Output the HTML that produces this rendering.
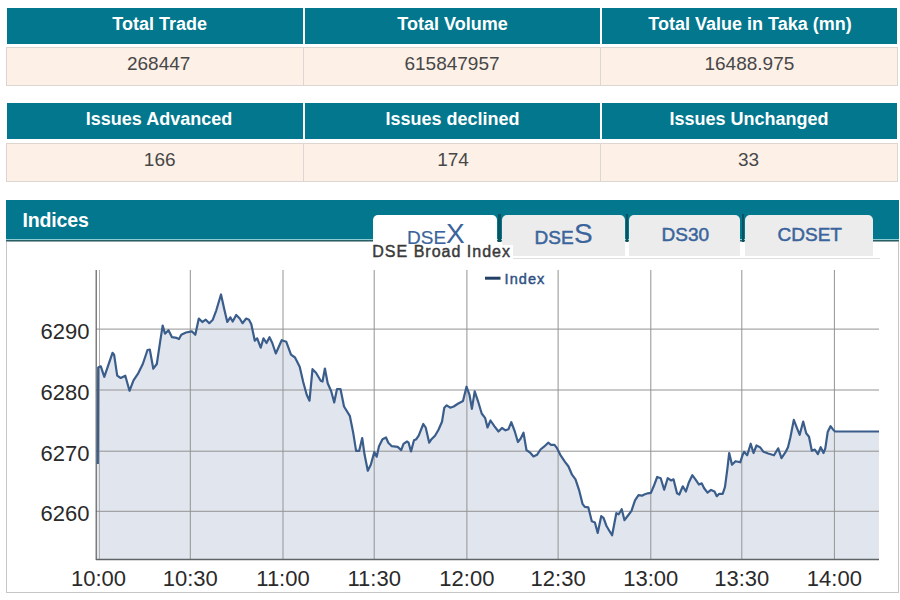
<!DOCTYPE html>
<html><head><meta charset="utf-8">
<style>
*{margin:0;padding:0;box-sizing:border-box}
html,body{width:900px;height:600px;overflow:hidden;background:#fff;font-family:"Liberation Sans",sans-serif}
.abs{position:absolute}
.th{position:absolute;background:#02778d;height:36px}
.tht{position:absolute;width:300px;text-align:center;color:#fff;font-weight:bold;font-size:18px;line-height:20px;white-space:nowrap}
.tdt{position:absolute;width:200px;text-align:center;color:#474747;font-size:19px;line-height:20px}
.drow{position:absolute;left:6px;width:892px;height:39px;border:1px solid #dcd5d0;background:#fdf0e7}
.vsep{position:absolute;width:1px;background:#dcd5d0}
.yl{position:absolute;left:20px;width:69.5px;text-align:right;font-size:22px;line-height:23px;color:#2a2a2a}
.xl{position:absolute;top:567px;width:80px;text-align:center;font-size:22px;line-height:23px;color:#2a2a2a}
.tab{position:absolute;top:214.5px;height:41.5px;border-radius:5px 5px 0 0;background:#ececec;color:#3a649b}
.gap{position:absolute;top:214px;width:2.5px;height:27.5px;background:#0a5360}
</style></head><body>
<!-- table 1 -->
<div class="th" style="left:7px;top:8px;width:295.5px"></div>
<div class="th" style="left:304.5px;top:8px;width:295.5px"></div>
<div class="th" style="left:601.5px;top:8px;width:295px"></div>
<div class="tht" style="left:9.699999999999989px;top:13.5px">Total Trade</div>
<div class="tht" style="left:302.5px;top:13.5px">Total Volume</div>
<div class="tht" style="left:600px;top:13.5px">Total Value in Taka (mn)</div>
<div class="drow" style="top:47px"></div>
<div class="vsep" style="left:303px;top:47px;height:39px"></div>
<div class="vsep" style="left:600px;top:47px;height:39px"></div>
<div class="tdt" style="left:58.69999999999999px;top:53.5px">268447</div>
<div class="tdt" style="left:352px;top:53.5px">615847957</div>
<div class="tdt" style="left:649.4px;top:53.5px">16488.975</div>
<!-- table 2 -->
<div class="th" style="left:7px;top:103px;width:295.5px"></div>
<div class="th" style="left:304.5px;top:103px;width:295.5px"></div>
<div class="th" style="left:601.5px;top:103px;width:295px"></div>
<div class="tht" style="left:9px;top:109px">Issues Advanced</div>
<div class="tht" style="left:302.5px;top:109px">Issues declined</div>
<div class="tht" style="left:599px;top:109px">Issues Unchanged</div>
<div class="drow" style="top:143px;height:39px"></div>
<div class="vsep" style="left:303px;top:143px;height:39px"></div>
<div class="vsep" style="left:600px;top:143px;height:39px"></div>
<div class="tdt" style="left:59.69999999999999px;top:149.5px">166</div>
<div class="tdt" style="left:353px;top:149.5px">174</div>
<div class="tdt" style="left:648.5px;top:149.5px">33</div>
<!-- indices -->
<div class="abs" style="left:6px;top:200px;width:893px;height:39px;background:#02778d"></div>
<div class="abs" style="left:6px;top:239px;width:893px;height:1px;background:#8fcdd5"></div>
<div class="abs" style="left:6px;top:240px;width:893px;height:1px;background:#2a5f66"></div>
<div class="abs" style="left:6px;top:241px;width:893px;height:1px;background:#8aa6aa"></div>
<div class="abs" style="left:22.5px;top:208.5px;font-size:19.5px;line-height:22px;font-weight:bold;color:#fff;letter-spacing:-0.15px">Indices</div>
<div class="abs" style="left:6px;top:242px;width:892.5px;height:351px;border:1px solid #c6c6c6;border-top:none"></div>
<!-- tabs -->
<div class="gap" style="left:498px"></div>
<div class="gap" style="left:625.5px"></div>
<div class="gap" style="left:741.5px"></div>
<div class="tab" style="left:373px;width:124px;background:#fff"><span class="abs" style="left:34px;top:13px;font-size:19px;line-height:20px;-webkit-text-stroke:0.2px">DSE</span><span class="abs" style="left:73px;top:5.5px;font-size:28px;line-height:28px">X</span></div>
<div class="tab" style="left:501.5px;width:123px"><span class="abs" style="left:33px;top:13px;font-size:19px;line-height:20px;-webkit-text-stroke:0.5px">DSE</span><span class="abs" style="left:72.5px;top:5.5px;font-size:28px;line-height:28px;-webkit-text-stroke:0.2px">S</span></div>
<div class="tab" style="left:628.5px;width:111.5px"><span class="abs" style="left:0;width:111.5px;text-align:center;top:9.5px;font-size:19px;line-height:22px;-webkit-text-stroke:0.5px;padding-left:2px">DS30</span></div>
<div class="tab" style="left:744.5px;width:128.5px"><span class="abs" style="left:0;width:128.5px;text-align:center;top:9.5px;font-size:19px;line-height:22px;-webkit-text-stroke:0.5px;padding-left:2px">CDSET</span></div>
<div class="abs" style="left:373px;top:256px;width:507px;height:1px;background:#fff"></div><div class="abs" style="left:373px;top:257.5px;width:507px;height:1.5px;background:#dedede"></div>
<div class="abs" style="left:373px;top:244.5px;width:140px;height:15.5px;background:#fff"></div>
<div class="abs" style="left:372.3px;top:242.5px;font-size:16px;color:#3a3a3a;-webkit-text-stroke:0.45px #3a3a3a;letter-spacing:1.0px;line-height:17px">DSE Broad Index</div>
<!-- chart -->
<svg class="abs" style="left:0;top:0" width="900" height="600">
<path d="M96.6,559.5 L96.6,464.0 L97.8,464.0 L98.2,367.5 L100.8,366.3 L104.3,376.8 L112.5,352.8 L114.1,354.7 L117.2,375.7 L120.7,378.0 L125.3,375.7 L129.5,390.8 L133.5,380.3 L138.2,373.3 L142.8,364.0 L147.5,350.0 L149.8,349.5 L153.3,368.7 L156.8,364.0 L160.3,340.7 L162.7,325.5 L165.0,333.7 L168.5,330.2 L172.0,337.2 L176.7,337.9 L179.0,339.0 L181.3,334.8 L186.0,332.5 L191.8,331.3 L195.3,334.8 L198.8,318.5 L202.3,322.0 L205.8,319.7 L209.3,323.2 L212.8,319.7 L216.3,310.3 L221.0,294.5 L224.5,310.3 L227.3,322.0 L230.3,317.3 L232.7,321.5 L236.2,315.0 L239.7,318.5 L242.5,323.2 L246.2,318.5 L249.0,319.7 L251.3,324.3 L254.8,340.7 L257.2,338.3 L260.7,347.7 L263.5,338.3 L266.5,343.0 L269.5,337.2 L272.3,343.0 L275.8,353.5 L281.7,340.2 L286.3,341.8 L291.0,354.7 L295.0,357.5 L299.7,366.8 L303.2,382.0 L306.7,394.8 L309.5,400.7 L312.5,369.2 L316.0,372.7 L320.7,380.8 L322.5,381.5 L324.9,368.5 L327.7,383.2 L331.2,391.3 L334.2,402.5 L337.0,389.0 L340.5,389.0 L344.0,406.5 L349.8,415.8 L353.3,433.3 L356.1,450.8 L359.2,450.8 L362.2,438.0 L364.5,454.3 L367.8,470.7 L370.8,464.8 L374.3,452.0 L376.7,456.7 L379.0,446.2 L382.5,439.2 L386.0,437.5 L388.3,442.7 L391.8,446.2 L397.7,446.9 L401.2,450.1 L403.5,443.8 L407.0,441.5 L408.6,442.7 L411.0,451.5 L414.0,440.3 L416.3,439.2 L418.7,435.7 L423.3,424.0 L425.7,427.5 L429.2,442.7 L431.5,439.2 L435.0,435.7 L438.5,429.8 L442.0,421.7 L444.3,407.7 L446.7,405.3 L450.2,407.7 L453.7,406.5 L458.3,403.5 L463.0,401.1 L466.5,386.7 L469.5,394.8 L471.9,408.8 L474.7,391.3 L478.2,401.8 L481.7,413.5 L485.2,418.2 L487.5,427.5 L490.5,420.5 L494.5,426.3 L498.5,431.5 L502.0,428.0 L505.5,430.3 L508.5,429.2 L511.3,422.2 L514.8,431.5 L517.9,442.0 L520.7,438.5 L523.5,432.7 L526.5,450.2 L530.0,452.5 L533.5,456.5 L537.0,454.8 L540.5,449.5 L544.0,446.7 L548.2,442.7 L551.0,444.8 L554.5,444.8 L556.8,447.8 L560.3,454.8 L565.0,461.8 L568.5,466.5 L572.0,474.7 L575.5,479.3 L579.0,489.8 L582.5,503.8 L584.8,506.9 L588.3,507.3 L591.8,521.3 L594.9,522.5 L597.7,533.0 L601.2,516.2 L603.5,517.8 L606.5,526.0 L609.3,530.7 L612.1,535.3 L616.3,513.2 L618.7,514.3 L621.7,509.2 L624.5,520.2 L628.0,515.5 L631.5,510.8 L635.0,500.3 L638.5,495.2 L642.0,495.7 L644.3,494.5 L647.8,493.3 L650.9,492.9 L653.7,486.3 L657.2,477.0 L660.7,478.2 L664.2,489.8 L667.7,478.2 L671.2,480.5 L673.5,479.3 L677.0,493.3 L679.3,494.5 L682.8,486.3 L685.9,491.5 L688.7,482.8 L692.3,475.2 L695.8,479.8 L698.9,484.5 L701.7,483.3 L704.0,488.0 L707.5,492.7 L711.0,489.9 L714.5,491.5 L716.8,496.2 L719.2,493.8 L722.7,493.8 L725.0,486.8 L727.3,469.3 L729.2,453.0 L732.0,464.7 L735.5,461.2 L740.2,462.3 L742.5,455.3 L744.1,451.8 L747.2,455.3 L750.7,443.7 L753.5,453.0 L756.5,445.5 L760.0,447.2 L763.5,451.8 L768.2,453.5 L774.0,455.3 L778.2,448.3 L781.5,458.1 L785.7,451.8 L788.0,447.2 L790.3,437.8 L793.8,419.9 L796.9,427.8 L799.7,434.8 L803.2,421.5 L806.2,433.2 L809.0,436.7 L811.8,450.7 L814.8,449.5 L817.9,454.2 L820.7,447.2 L823.5,453.0 L825.3,448.3 L827.7,432.0 L830.5,426.2 L832.8,429.2 L835.1,431.5 L879.0,431.5 L879.0,559.5 Z" fill="rgba(70,100,150,0.16)" stroke="none"/>
<line x1="99.5" y1="270" x2="99.5" y2="559.5" stroke="#b0b0b0" stroke-width="1"/><line x1="190.3" y1="270" x2="190.3" y2="559.5" stroke="#939393" stroke-width="1"/><line x1="283" y1="270" x2="283" y2="559.5" stroke="#939393" stroke-width="1"/><line x1="374.2" y1="270" x2="374.2" y2="559.5" stroke="#939393" stroke-width="1"/><line x1="466.9" y1="270" x2="466.9" y2="559.5" stroke="#939393" stroke-width="1"/><line x1="558.1" y1="270" x2="558.1" y2="559.5" stroke="#939393" stroke-width="1"/><line x1="650.8" y1="270" x2="650.8" y2="559.5" stroke="#939393" stroke-width="1"/><line x1="741.8" y1="270" x2="741.8" y2="559.5" stroke="#939393" stroke-width="1"/><line x1="834.4" y1="270" x2="834.4" y2="559.5" stroke="#939393" stroke-width="1"/><line x1="96" y1="329.1" x2="879" y2="329.1" stroke="#939393" stroke-width="1"/><line x1="96" y1="390" x2="879" y2="390" stroke="#939393" stroke-width="1"/><line x1="96" y1="451.2" x2="879" y2="451.2" stroke="#939393" stroke-width="1"/><line x1="96" y1="511.3" x2="879" y2="511.3" stroke="#939393" stroke-width="1"/>
<line x1="96.2" y1="270" x2="96.2" y2="560" stroke="#5e5e5e" stroke-width="1.2"/>
<line x1="96" y1="559.5" x2="879" y2="559.5" stroke="#5f6468" stroke-width="1.3"/>
<path d="M97.8,464.0 L98.2,367.5 L100.8,366.3 L104.3,376.8 L112.5,352.8 L114.1,354.7 L117.2,375.7 L120.7,378.0 L125.3,375.7 L129.5,390.8 L133.5,380.3 L138.2,373.3 L142.8,364.0 L147.5,350.0 L149.8,349.5 L153.3,368.7 L156.8,364.0 L160.3,340.7 L162.7,325.5 L165.0,333.7 L168.5,330.2 L172.0,337.2 L176.7,337.9 L179.0,339.0 L181.3,334.8 L186.0,332.5 L191.8,331.3 L195.3,334.8 L198.8,318.5 L202.3,322.0 L205.8,319.7 L209.3,323.2 L212.8,319.7 L216.3,310.3 L221.0,294.5 L224.5,310.3 L227.3,322.0 L230.3,317.3 L232.7,321.5 L236.2,315.0 L239.7,318.5 L242.5,323.2 L246.2,318.5 L249.0,319.7 L251.3,324.3 L254.8,340.7 L257.2,338.3 L260.7,347.7 L263.5,338.3 L266.5,343.0 L269.5,337.2 L272.3,343.0 L275.8,353.5 L281.7,340.2 L286.3,341.8 L291.0,354.7 L295.0,357.5 L299.7,366.8 L303.2,382.0 L306.7,394.8 L309.5,400.7 L312.5,369.2 L316.0,372.7 L320.7,380.8 L322.5,381.5 L324.9,368.5 L327.7,383.2 L331.2,391.3 L334.2,402.5 L337.0,389.0 L340.5,389.0 L344.0,406.5 L349.8,415.8 L353.3,433.3 L356.1,450.8 L359.2,450.8 L362.2,438.0 L364.5,454.3 L367.8,470.7 L370.8,464.8 L374.3,452.0 L376.7,456.7 L379.0,446.2 L382.5,439.2 L386.0,437.5 L388.3,442.7 L391.8,446.2 L397.7,446.9 L401.2,450.1 L403.5,443.8 L407.0,441.5 L408.6,442.7 L411.0,451.5 L414.0,440.3 L416.3,439.2 L418.7,435.7 L423.3,424.0 L425.7,427.5 L429.2,442.7 L431.5,439.2 L435.0,435.7 L438.5,429.8 L442.0,421.7 L444.3,407.7 L446.7,405.3 L450.2,407.7 L453.7,406.5 L458.3,403.5 L463.0,401.1 L466.5,386.7 L469.5,394.8 L471.9,408.8 L474.7,391.3 L478.2,401.8 L481.7,413.5 L485.2,418.2 L487.5,427.5 L490.5,420.5 L494.5,426.3 L498.5,431.5 L502.0,428.0 L505.5,430.3 L508.5,429.2 L511.3,422.2 L514.8,431.5 L517.9,442.0 L520.7,438.5 L523.5,432.7 L526.5,450.2 L530.0,452.5 L533.5,456.5 L537.0,454.8 L540.5,449.5 L544.0,446.7 L548.2,442.7 L551.0,444.8 L554.5,444.8 L556.8,447.8 L560.3,454.8 L565.0,461.8 L568.5,466.5 L572.0,474.7 L575.5,479.3 L579.0,489.8 L582.5,503.8 L584.8,506.9 L588.3,507.3 L591.8,521.3 L594.9,522.5 L597.7,533.0 L601.2,516.2 L603.5,517.8 L606.5,526.0 L609.3,530.7 L612.1,535.3 L616.3,513.2 L618.7,514.3 L621.7,509.2 L624.5,520.2 L628.0,515.5 L631.5,510.8 L635.0,500.3 L638.5,495.2 L642.0,495.7 L644.3,494.5 L647.8,493.3 L650.9,492.9 L653.7,486.3 L657.2,477.0 L660.7,478.2 L664.2,489.8 L667.7,478.2 L671.2,480.5 L673.5,479.3 L677.0,493.3 L679.3,494.5 L682.8,486.3 L685.9,491.5 L688.7,482.8 L692.3,475.2 L695.8,479.8 L698.9,484.5 L701.7,483.3 L704.0,488.0 L707.5,492.7 L711.0,489.9 L714.5,491.5 L716.8,496.2 L719.2,493.8 L722.7,493.8 L725.0,486.8 L727.3,469.3 L729.2,453.0 L732.0,464.7 L735.5,461.2 L740.2,462.3 L742.5,455.3 L744.1,451.8 L747.2,455.3 L750.7,443.7 L753.5,453.0 L756.5,445.5 L760.0,447.2 L763.5,451.8 L768.2,453.5 L774.0,455.3 L778.2,448.3 L781.5,458.1 L785.7,451.8 L788.0,447.2 L790.3,437.8 L793.8,419.9 L796.9,427.8 L799.7,434.8 L803.2,421.5 L806.2,433.2 L809.0,436.7 L811.8,450.7 L814.8,449.5 L817.9,454.2 L820.7,447.2 L823.5,453.0 L825.3,448.3 L827.7,432.0 L830.5,426.2 L832.8,429.2 L835.1,431.5 L879.0,431.5" fill="none" stroke="#3a5d8b" stroke-width="2.2" stroke-linejoin="round"/>
<line x1="485" y1="278.2" x2="500.5" y2="278.2" stroke="#243f66" stroke-width="3"/>
</svg>
<div class="abs" style="left:504.5px;top:270.5px;font-size:14.5px;line-height:16px;color:#2f5283;-webkit-text-stroke:0.45px #2f5283;letter-spacing:1.1px">Index</div>
<div class="yl" style="top:319.8px">6290</div><div class="yl" style="top:380.7px">6280</div><div class="yl" style="top:441.9px">6270</div><div class="yl" style="top:502.0px">6260</div>
<div class="xl" style="left:58.5px">10:00</div><div class="xl" style="left:150.3px">10:30</div><div class="xl" style="left:243.0px">11:00</div><div class="xl" style="left:334.2px">11:30</div><div class="xl" style="left:426.9px">12:00</div><div class="xl" style="left:518.1px">12:30</div><div class="xl" style="left:610.8px">13:00</div><div class="xl" style="left:701.8px">13:30</div><div class="xl" style="left:794.4px">14:00</div>
</body></html>
